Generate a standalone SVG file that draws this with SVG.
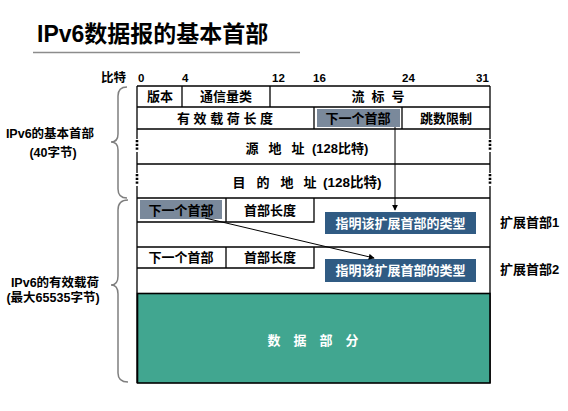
<svg xmlns="http://www.w3.org/2000/svg" width="568" height="411" viewBox="0 0 568 411">
<defs>
<style>
text{font-family:"Liberation Sans","Noto Sans CJK SC",sans-serif;font-weight:bold;fill:#000}
.t{font-size:13px;text-anchor:middle}
.s{font-size:12px}
.w{fill:#fff}
.ln{stroke:#000;stroke-width:1.3;fill:none}
.dash{stroke:#000;stroke-width:2.6;stroke-dasharray:2.2 1.6;fill:none}
.brace{stroke:#7f7f7f;stroke-width:1.5;fill:none}
</style>
<marker id="ah" viewBox="0 0 8 8" refX="7" refY="4" markerWidth="6" markerHeight="6" orient="auto" markerUnits="userSpaceOnUse">
<path d="M0,0 L8,4 L0,8 z" fill="#000"/>
</marker>
</defs>
<rect width="568" height="411" fill="#fff"/>
<g id="title">
<text x="37" y="42" style="font-size:23px">IPv6数据报的基本首部</text>
<line x1="33" y1="52.5" x2="300" y2="52.5" stroke="#8c8c8c" stroke-width="1.5"/>
</g>
<g id="bits">
<text x="101" y="82" style="font-size:12.5px">比特</text>
<text x="138" y="82" style="font-size:11.5px">0</text>
<text x="182" y="82" style="font-size:11.5px">4</text>
<text x="272" y="82" style="font-size:11.5px">12</text>
<text x="313" y="82" style="font-size:11.5px">16</text>
<text x="402" y="82" style="font-size:11.5px">24</text>
<text x="476" y="82" style="font-size:11.5px">31</text>
</g>
<g id="table">
<line class="ln" x1="137" y1="86" x2="490" y2="86"/>
<line class="ln" x1="137" y1="107" x2="490" y2="107"/>
<line class="ln" x1="137" y1="129" x2="490" y2="129"/>
<line class="ln" x1="137" y1="164" x2="490" y2="164"/>
<line class="ln" x1="137" y1="198" x2="490" y2="198"/>
<line class="ln" x1="137" y1="247" x2="490" y2="247"/>
<path class="ln" d="M137,86 V139 M137,152 V173 M137,186 V383"/>
<path class="ln" d="M490,86 V139 M490,152 V173 M490,186 V383"/>
<path class="dash" d="M137,140 V151 M137,174 V185 M490,140 V151 M490,174 V185"/>
<line class="ln" x1="182" y1="86" x2="182" y2="107"/>
<line class="ln" x1="270" y1="86" x2="270" y2="107"/>
<line class="ln" x1="314" y1="107" x2="314" y2="129"/>
<line class="ln" x1="402" y1="107" x2="402" y2="129"/>
</g>
<g id="row1">
<text class="t" x="160" y="101">版本</text>
<text class="t" x="226" y="101">通信量类</text>
<text class="t" y="101"><tspan x="358">流</tspan><tspan x="378">标</tspan><tspan x="398">号</tspan></text>
</g>
<g id="row2">
<text class="t" x="225" y="123">有 效 载 荷 长 度</text>
<rect x="317" y="109" width="83" height="18" fill="#7a899b"/>
<text class="t" x="358" y="123">下一个首部</text>
<text class="t" x="446" y="123">跳数限制</text>
</g>
<g id="src">
<text class="t" y="153"><tspan x="252">源</tspan><tspan x="275">地</tspan><tspan x="298">址</tspan></text>
<text x="312" y="153" style="font-size:13px">(128比特)</text>
</g>
<g id="dst">
<text class="t" y="187"><tspan x="239">目</tspan><tspan x="263">的</tspan><tspan x="287">地</tspan><tspan x="310">址</tspan></text>
<text x="323" y="187" style="font-size:13.5px">(128比特)</text>
</g>
<g id="ext1">
<path class="ln" d="M137,222 H314 V198 M226,198 V222"/>
<rect x="140" y="200" width="82" height="19" fill="#7a899b"/>
<text class="t" x="181" y="215">下一个首部</text>
<text class="t" x="270" y="215">首部长度</text>
<rect x="325" y="212" width="151" height="22" fill="#305b83"/>
<text class="t w" x="400.5" y="228">指明该扩展首部的类型</text>
<text x="500" y="227" style="font-size:13px">扩展首部1</text>
</g>
<g id="ext2">
<path class="ln" d="M137,268 H314 V247 M226,247 V268"/>
<text class="t" x="181" y="262">下一个首部</text>
<text class="t" x="270" y="262">首部长度</text>
<rect x="325" y="259" width="151" height="23" fill="#305b83"/>
<text class="t w" x="400.5" y="275">指明该扩展首部的类型</text>
<text x="500" y="274" style="font-size:13px">扩展首部2</text>
</g>
<g id="data">
<rect x="137.5" y="293.5" width="352.5" height="89.5" fill="#41a690" stroke="#000" stroke-width="1.6"/>
<text class="t w" x="313" y="345">数　据　部　分</text>
</g>
<g id="braces">
<path class="brace" d="M127,87 Q118,87 118,96 L118,134 Q118,142 111,142 Q118,142 118,150 L118,189 Q118,198 127,198"/>
<path class="brace" d="M128,200 Q118,200 118,210 L118,276 Q118,285 111,285 Q118,285 118,294 L118,373 Q118,382 128,382"/>
<text x="50" y="138" style="font-size:12.5px;text-anchor:middle">IPv6的基本首部</text>
<text x="53" y="157" style="font-size:12.5px;text-anchor:middle">(40字节)</text>
<text x="55" y="287" style="font-size:12.5px;text-anchor:middle">IPv6的有效载荷</text>
<text x="53" y="302" style="font-size:12.5px;text-anchor:middle">(最大65535字节)</text>
</g>
<g id="connectors">
<line x1="395" y1="127" x2="395" y2="210" stroke="#000" stroke-width="1" marker-end="url(#ah)"/>
<line x1="205" y1="218" x2="374" y2="258" stroke="#000" stroke-width="1" marker-end="url(#ah)"/>
</g>
</svg>
